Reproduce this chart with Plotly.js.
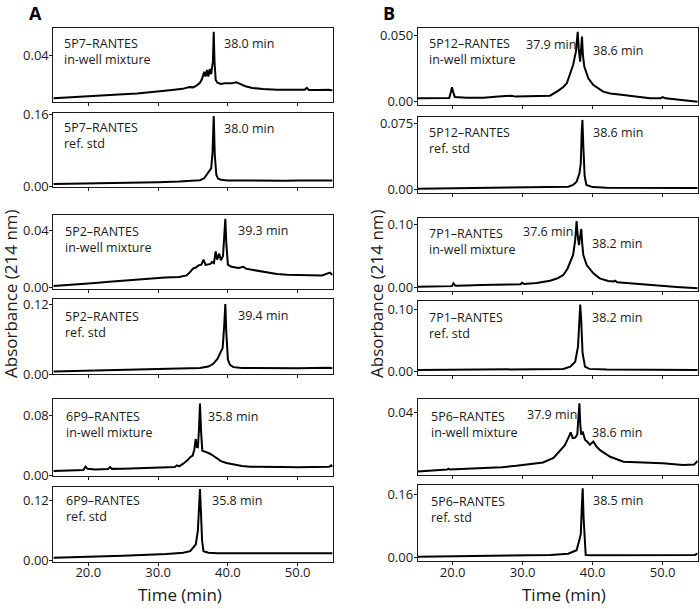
<!DOCTYPE html>
<html><head><meta charset="utf-8">
<script src="https://cdn.plot.ly/plotly-3.0.1.min.js"></script>
<style>html,body{margin:0;padding:0;background:#fff}</style>
</head><body><div id="chart" style="width:700px;height:609px"></div>
<script>
// ---------- Data (time in min, absorbance at 214 nm) ----------
const tA1 = [15,17,19,21,23,25,27,29,30.5,32,33.5,34.5,35,35.5,36.0,36.3,36.6,36.8,37.0,37.2,37.4,37.6,37.85,37.97,38.08,38.25,38.5,39.0,39.5,40.0,40.5,41.2,41.8,42.5,43.5,45,47,49,51,51.3,51.6,53,54.5,55];
const aA1 = [0.0029,0.0035,0.0043,0.005,0.0056,0.0064,0.0072,0.0082,0.009,0.0103,0.0112,0.0127,0.0125,0.014,0.0165,0.02,0.026,0.022,0.0277,0.022,0.0285,0.024,0.035,0.061,0.035,0.019,0.0165,0.0155,0.016,0.0158,0.016,0.017,0.0155,0.0135,0.012,0.011,0.0105,0.0102,0.0104,0.012,0.0103,0.0102,0.0105,0.0098];

const tA2 = [15,20,25,30,33,35,36,36.6,37.0,37.3,37.6,37.8,37.97,38.12,38.35,38.6,39.0,40,42,45,48,50,52,55];
const aA2 = [0.0052,0.006,0.0075,0.009,0.0105,0.012,0.0135,0.018,0.027,0.035,0.04,0.075,0.157,0.07,0.025,0.017,0.0145,0.013,0.0125,0.0128,0.0125,0.0128,0.0125,0.013];

const tA3 = [15,17,19,21,23,25,27,29,31,33,34.1,34.6,35.0,35.4,35.8,36.2,36.5,36.8,37.2,37.5,37.7,38.0,38.25,38.45,38.75,39.0,39.3,39.5,39.63,39.78,40.0,40.5,41.5,42.2,42.6,43.6,44.5,45.6,47,48.5,50.3,52,53.5,54.6,55];
const aA3 = [0.0012,0.0018,0.0026,0.0033,0.0042,0.005,0.0056,0.0063,0.007,0.0075,0.0085,0.011,0.0132,0.014,0.0155,0.016,0.0194,0.0158,0.016,0.0165,0.0178,0.017,0.0252,0.0195,0.0236,0.019,0.022,0.035,0.0478,0.03,0.016,0.0145,0.0137,0.0145,0.0132,0.0123,0.0115,0.0104,0.0095,0.009,0.0088,0.0088,0.0085,0.0105,0.0088];

const tA4 = [15,20,25,30,34,36,37.2,37.9,38.5,38.9,39.25,39.48,39.63,39.78,40.0,40.3,40.8,42,45,50,54.5,55];
const aA4 = [0.0045,0.0058,0.007,0.0082,0.0095,0.0105,0.013,0.0177,0.026,0.036,0.045,0.085,0.1205,0.07,0.025,0.016,0.012,0.0105,0.0103,0.0103,0.011,0.0103];

const tA5 = [15,17,19.3,19.6,19.9,21,22.8,23.1,23.4,25,27,29,31.2,32.4,32.7,33.0,33.6,34.2,34.6,34.95,35.2,35.38,35.55,35.7,35.85,36.0,36.15,36.33,36.6,36.96,37.3,37.7,38.1,38.4,39,39.8,40.8,42,43.2,45,47.9,50,52,54.5,54.8,55];
const aA5 = [0.0057,0.0062,0.007,0.0115,0.0085,0.0078,0.0082,0.011,0.0085,0.0088,0.0092,0.0096,0.0102,0.011,0.0133,0.012,0.0155,0.02,0.0243,0.0265,0.035,0.0487,0.038,0.0376,0.06,0.0965,0.06,0.033,0.032,0.031,0.0295,0.0275,0.025,0.022,0.019,0.0165,0.0146,0.0125,0.0115,0.011,0.011,0.0108,0.011,0.0112,0.0133,0.0112];

const tA6 = [15,20,25,31.2,33.6,34.6,35.0,35.4,35.7,35.87,36.0,36.13,36.3,36.5,37.2,38.5,42,46,50,54.5,55];
const aA6 = [0.0047,0.0063,0.0085,0.012,0.0149,0.018,0.025,0.0315,0.06,0.11,0.1438,0.1,0.04,0.018,0.0149,0.0138,0.0136,0.0136,0.0136,0.014,0.0136];

const tB1 = [15,17,19.5,19.75,19.9,20.05,20.3,22,24.4,26.5,28.4,29,31,33.9,35.1,35.8,36.3,36.75,37.2,37.6,37.86,38.0,38.2,38.35,38.47,38.6,38.8,39.37,40.1,41.5,42.5,44.4,46,48.2,49.7,50.0,50.4,52,53.5,55];
const aB1 = [0.0026,0.0026,0.0028,0.0075,0.0108,0.0075,0.0035,0.003,0.003,0.0038,0.0045,0.0038,0.004,0.0045,0.0083,0.011,0.0138,0.0213,0.0275,0.0375,0.0525,0.04,0.03,0.04,0.0488,0.035,0.0263,0.0175,0.0125,0.0075,0.0062,0.005,0.004,0.0026,0.0026,0.0035,0.0025,0.0018,0.001,0.0];

const tB2 = [15,20,25,30,34,36.5,37.2,37.7,38.1,38.3,38.43,38.53,38.66,38.85,39.1,40,42,46,50,55];
const aB2 = [0.0007,0.0012,0.0018,0.0022,0.0026,0.003,0.005,0.0087,0.018,0.03,0.065,0.0796,0.05,0.015,0.005,0.0025,0.0019,0.0017,0.0016,0.0015];

const tB3 = [15,18,19.9,20.1,20.4,22,23.4,23.6,24,26,28,29.7,29.9,30.2,32,33.9,35.0,35.8,36.4,36.76,37.2,37.5,37.7,37.88,38.04,38.2,38.37,38.5,38.66,39.14,39.6,40.1,41,42.2,43.0,43.2,43.5,46.4,48,50,52,55];
const aB3 = [0.0016,0.002,0.0025,0.007,0.003,0.0035,0.004,0.005,0.0042,0.0045,0.005,0.0055,0.0079,0.006,0.0075,0.011,0.015,0.02,0.03,0.04,0.0516,0.075,0.105,0.08,0.0673,0.08,0.0926,0.07,0.0516,0.0358,0.03,0.0227,0.0148,0.0105,0.0098,0.011,0.0085,0.0058,0.004,0.0025,0.001,-0.001];

const tB4 = [15,20,25,30,35.8,36.8,37.5,37.9,38.07,38.22,38.37,38.55,38.9,39.5,42,48,55];
const aB4 = [0.0027,0.003,0.0035,0.0038,0.0043,0.008,0.016,0.04,0.085,0.1075,0.08,0.03,0.008,0.0045,0.0035,0.003,0.0027];

const tB5 = [15,17,19.2,19.4,19.6,22,24.4,27,29.1,31,32.9,34.4,35.6,36.0,36.5,36.86,37.14,37.5,37.8,37.97,38.1,38.22,38.35,38.57,38.9,39.3,39.6,40.1,40.5,41,42.5,44.4,46,49.6,50,52.9,54.5,55];
const aB5 = [0.0022,0.003,0.0035,0.0041,0.0035,0.004,0.0044,0.005,0.0059,0.007,0.008,0.0109,0.0168,0.019,0.0237,0.0274,0.0237,0.024,0.026,0.035,0.0461,0.033,0.0259,0.028,0.0226,0.021,0.0194,0.0215,0.0185,0.0161,0.0117,0.0085,0.0082,0.008,0.0075,0.0065,0.0068,0.0091];

const tB6 = [15,20,25,30,34,36.5,37.7,38.1,38.3,38.45,38.57,38.7,38.85,39.0,40,45,50,54.6,55];
const aB6 = [0.0025,0.0035,0.0045,0.0055,0.0068,0.01,0.019,0.045,0.06,0.13,0.175,0.1,0.03,0.0068,0.0065,0.0068,0.0068,0.007,0.011];

const xTickVals = [20,30,40,50];
const xTickText = ['20.0','30.0','40.0','50.0'];

const compounds = ['5P7\u2013RANTES','5P7\u2013RANTES','5P2\u2013RANTES','5P2\u2013RANTES','6P9\u2013RANTES','6P9\u2013RANTES',
                   '5P12\u2013RANTES','5P12\u2013RANTES','7P1\u2013RANTES','7P1\u2013RANTES','5P6\u2013RANTES','5P6\u2013RANTES'];
const samples = ['in-well mixture','ref. std','in-well mixture','ref. std','in-well mixture','ref. std',
                 'in-well mixture','ref. std','in-well mixture','ref. std','in-well mixture','ref. std'];
const peakLabels = [['38.0 min'],['38.0 min'],['39.3 min'],['39.4 min'],['35.8 min'],['35.8 min'],
                    ['37.9 min','38.6 min'],['38.6 min'],['37.6 min','38.2 min'],['38.2 min'],['37.9 min','38.6 min'],['38.5 min']];
const yTickVals = [[0.04],[0,0.16],[0,0.04],[0,0.12],[0,0.08],[0,0.12],[0,0.05],[0,0.075],[0,0.1],[0,0.1],[0.04],[0,0.16]];
const yTickText = [['0.04'],['0.00','0.16'],['0.00','0.04'],['0.00','0.12'],['0.00','0.08'],['0.00','0.12'],
                   ['0.00','0.050'],['0.00','0.075'],['0.00','0.10'],['0.00','0.10'],['0.04'],['0.00','0.16']];

const series = [[tA1,aA1],[tA2,aA2],[tA3,aA3],[tA4,aA4],[tA5,aA5],[tA6,aA6],
                [tB1,aB1],[tB2,aB2],[tB3,aB3],[tB4,aB4],[tB5,aB5],[tB6,aB6]];

// ---------- Layout geometry (pixels) ----------
const W = 700, H = 609;
const colPx = [[53.4,332.6],[417.7,697.7]];
const rowPx = [[28.3,101.7],[112.7,187.3],[215,289.3],[299,374.3],[399.3,476],[486.7,561.7],
               [28,105],[116.7,193.3],[217.7,290.7],[301,375],[399,475],[485,561]];
const yRanges = [[0,0.064],[-0.0023,0.1645],[-0.0011,0.0504],[-0.0003,0.129],[-0.0011,0.1022],[-0.0034,0.1485],
                 [-0.0025,0.0553],[-0.0046,0.0833],[-0.0047,0.1104],[-0.0053,0.1132],[0,0.0488],[-0.0083,0.1835]];
// label positions: [nameX, line1Y, line2Y, [[peakX, peakY], ...]]
const labelPos = [
  [63, 43.7, 58.5, [[223,43.7]]],
  [63, 127, 144, [[223,128.7]]],
  [64, 231, 247.3, [[236.7,230]]],
  [64, 316, 332.7, [[236.7,315.3]]],
  [65, 416.7, 431.7, [[206.7,416]]],
  [65, 500.7, 516.7, [[210.7,500]]],
  [427.7, 43.3, 60, [[525,44.3],[591.7,50]]],
  [427.7, 132.3, 148.3, [[591.7,132.3]]],
  [428.3, 233.3, 250, [[522.3,231.7],[591,243.3]]],
  [428.3, 317.3, 334, [[591,317.3]]],
  [430, 416, 432.7, [[526,415],[590.7,432.7]]],
  [430, 501.7, 517.3, [[592.3,500.7]]]
];

const FONT = 'Open Sans, DejaVu Sans, sans-serif';
const ink = '#1a1a1a';
const LBL = 12.5;
const traces = [];
const layout = {
  width: W, height: H,
  margin: {l:0, r:0, t:0, b:0},
  paper_bgcolor: '#fff', plot_bgcolor: '#fff',
  showlegend: false,
  font: {family: FONT, size: 13, color: ink},
  annotations: []
};
function px2x(p){ return p / W; }
function px2y(p){ return 1 - p / H; }
function ann(x, y, text, extra){
  return Object.assign({xref:'paper', yref:'paper', x:px2x(x), y:px2y(y), text:text, showarrow:false,
    xanchor:'left', yanchor:'middle', align:'left', font:{family:FONT, size:LBL, color:ink}, borderpad:0}, extra||{});
}

for (let i = 0; i < 12; i++) {
  const n = i === 0 ? '' : String(i+1);
  const col = i < 6 ? 0 : 1;
  traces.push({
    type:'scatter', mode:'lines', x: series[i][0], y: series[i][1],
    xaxis: 'x'+n, yaxis: 'y'+n,
    line: {color:'#000', width:2, shape:'linear'}, hoverinfo:'skip'
  });
  const bottomRow = (i === 5 || i === 11);
  layout['xaxis'+n] = {
    domain: [px2x(colPx[col][0]), px2x(colPx[col][1])],
    anchor: 'y'+n, range: [15,55],
    tickvals: xTickVals, ticktext: xTickText, showticklabels: bottomRow,
    ticks: 'outside', ticklen: 3, tickwidth: 1, tickcolor: ink,
    showline: true, mirror: true, linecolor: ink, linewidth: 1,
    showgrid: false, zeroline: false, fixedrange: true,
    ticklabelstandoff: -4,
    tickfont: {family: FONT, size: 13, color: ink}
  };
  layout['yaxis'+n] = {
    domain: [px2y(rowPx[i][1]), px2y(rowPx[i][0])],
    anchor: 'x'+n, range: yRanges[i],
    tickvals: yTickVals[i], ticktext: yTickText[i],
    ticks: 'outside', ticklen: 3, tickwidth: 1, tickcolor: ink,
    showline: true, mirror: true, linecolor: ink, linewidth: 1,
    showgrid: false, zeroline: false, fixedrange: true,
    ticklabelstandoff: -2,
    tickfont: {family: FONT, size: 13, color: ink}
  };
  const lp = labelPos[i];
  layout.annotations.push(ann(lp[0], (lp[1] + lp[2]) / 2, compounds[i] + '<br>' + samples[i]));
  lp[3].forEach((p, k) => layout.annotations.push(ann(p[0], p[1], peakLabels[i][k])));
}

// axis titles and panel letters
layout.annotations.push(ann(10, 294, 'Absorbance (214 nm)', {xanchor:'center', textangle:-90, font:{family:FONT, size:17, color:ink}}));
layout.annotations.push(ann(376, 294, 'Absorbance (214 nm)', {xanchor:'center', textangle:-90, font:{family:FONT, size:17, color:ink}}));
layout.annotations.push(ann(180, 594, 'Time (min)', {xanchor:'center', font:{family:FONT, size:17, color:ink}}));
layout.annotations.push(ann(564, 594, 'Time (min)', {xanchor:'center', font:{family:FONT, size:17, color:ink}}));
layout.annotations.push(ann(35.5, 12.5, '<b>A</b>', {xanchor:'center', font:{family:FONT, size:18, color:'#000'}}));
layout.annotations.push(ann(389.5, 12.5, '<b>B</b>', {xanchor:'center', font:{family:FONT, size:18, color:'#000'}}));

Plotly.newPlot('chart', traces, layout, {staticPlot:true, displayModeBar:false});
</script>
</body></html>
